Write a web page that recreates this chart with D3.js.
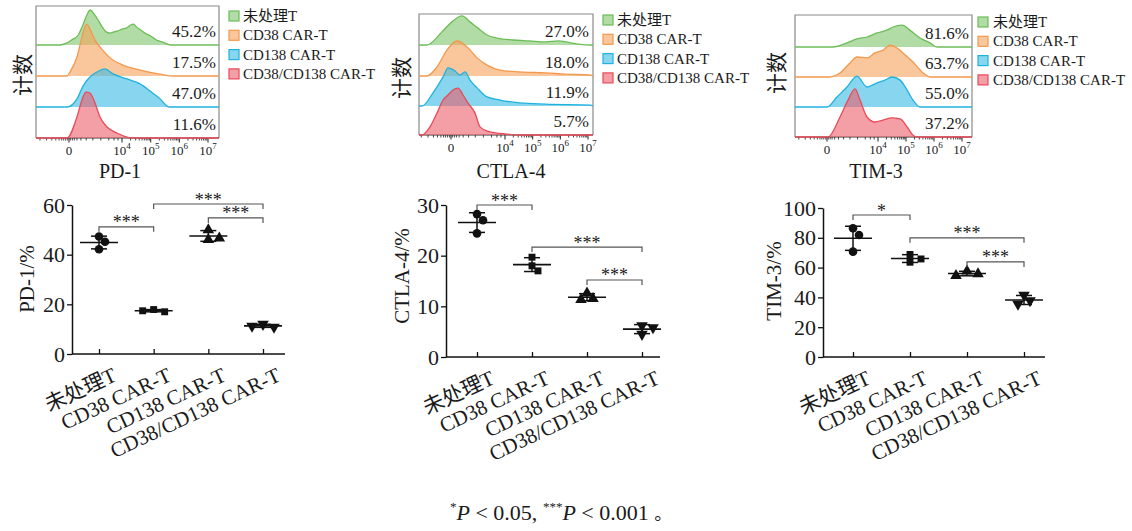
<!DOCTYPE html>
<html><head><meta charset="utf-8">
<script src="https://cdn.jsdelivr.net/npm/d3@7"></script>
<style>
body{margin:0;background:#fff}
svg{display:block}
text{font-family:"Liberation Serif","Times New Roman","Noto Sans CJK SC",serif;fill:#1a1a1a}
</style>
</head><body>
<svg id="c" width="1132" height="531"></svg>
<script>
// ---------- data ----------
const groups = ["未处理T", "CD38 CAR-T", "CD138 CAR-T", "CD38/CD138 CAR-T"];

// histogram x values are in axis units: 0 = "0", 4 = 10^4, 5 = 10^5 ...; y = relative count
const pd1HistUntreated = [[-0.7,0],[-0.2,6],[0.2,16],[0.7,32],[1.05,64],[1.35,96],[1.6,112],[1.9,99],[2.2,80],[2.5,58],[2.8,42],[3.1,38],[3.4,42],[3.7,45],[4.0,51],[4.15,54],[4.3,64],[4.4,67],[4.5,58],[4.65,48],[4.8,38],[5.0,29],[5.2,16],[5.4,10],[5.7,0]];
const pd1HistCD38 = [[-0.15,0],[0.08,13],[0.6,61],[0.98,125],[1.2,157],[1.36,166],[1.58,150],[1.96,115],[2.34,93],[3.1,58],[4.03,35],[4.63,19],[5.33,6],[5.78,0]];
const pd1HistCD138 = [[-0.15,0],[0.6,26],[1.06,67],[1.58,96],[2.11,112],[2.72,122],[3.32,106],[4.17,90],[4.63,74],[4.98,51],[5.33,26],[5.57,3],[5.67,0]];
const pd1HistDual = [[-0.15,0],[0.6,67],[0.98,122],[1.28,147],[1.58,144],[1.96,112],[2.34,67],[2.87,35],[3.62,16],[4.17,3],[4.4,0]];

const ctla4HistUntreated = [[-1.78,0],[-0.67,42],[0.07,74],[0.81,93],[1.41,74],[2.0,54],[2.67,32],[3.41,22],[4.28,16],[4.88,13],[5.47,10],[5.93,13],[6.63,3],[7.09,0]];
const ctla4HistCD38 = [[-1.78,0],[-1.04,29],[-0.3,83],[0.44,112],[1.19,93],[1.93,58],[2.67,35],[3.63,19],[4.53,13],[5.47,10],[6.18,6],[7.09,3]];
const ctla4HistCD138 = [[-2.15,0],[-1.33,42],[-0.59,93],[-0.22,122],[0.3,112],[0.67,99],[1.04,109],[1.41,83],[1.93,58],[2.67,29],[3.63,19],[4.53,10],[5.47,6],[7.09,3]];
const ctla4HistDual = [[-2.15,0],[-1.56,26],[-1.04,70],[-0.59,112],[-0.22,128],[0.15,144],[0.52,150],[0.89,128],[1.26,102],[1.78,70],[2.15,26],[2.89,10],[4.07,3],[4.53,0]];

const tim3HistUntreated = [[0.47,0],[1.57,13],[2.35,26],[3.14,32],[3.92,45],[4.32,54],[4.54,64],[4.86,70],[5.14,54],[5.5,29],[5.86,13],[6.11,0]];
const tim3HistCD38 = [[0.08,0],[1.02,13],[1.8,45],[2.35,64],[3.14,61],[3.76,77],[4.18,86],[4.43,102],[4.68,93],[4.89,77],[5.25,48],[5.61,13],[5.86,0]];
const tim3HistCD138 = [[0,0],[0.78,32],[1.57,64],[2.35,99],[3.14,64],[3.92,77],[4.25,86],[4.5,96],[4.79,86],[5.04,54],[5.25,22],[5.5,0]];
const tim3HistDual = [[0.08,0],[1.02,64],[1.65,118],[2.2,154],[2.59,118],[3.14,64],[3.76,48],[4.18,54],[4.5,61],[4.79,58],[5.04,32],[5.25,6],[5.39,0]];

const pd1Pct = ["45.2%", "17.5%", "47.0%", "11.6%"];
const ctla4Pct = ["27.0%", "18.0%", "11.9%", "5.7%"];
const tim3Pct = ["81.6%", "63.7%", "55.0%", "37.2%"];

const histMajorTicks = [0, 4, 5, 6, 7];
const histTickLabels = ["0", "10|4", "10|5", "10|6", "10|7"];

// replicate values (%)
const pd1Values = [[47.3, 45.2, 42.2], [17.9, 17.0, 17.4], [50.0, 46.0, 46.6], [12.0, 10.8, 11.2]];
const ctla4Values = [[28.2, 27.0, 24.4], [19.7, 18.0, 17.0], [12.6, 11.5, 11.3], [6.2, 5.8, 4.5]];
const tim3Values = [[86.4, 81.9, 70.7], [68.8, 65.8, 63.6], [57.6, 55.8, 54.6], [41.5, 37.8, 35.5]];

// significance: [groupA, groupB, bracket level (%), label]
const pd1Sig = [[0, 1, 51.2, "***"], [1, 3, 60.4, "***"], [2, 3, 54.8, "***"]];
const ctla4Sig = [[0, 1, 30.0, "***"], [1, 3, 21.7, "***"], [2, 3, 15.2, "***"]];
const tim3Sig = [[0, 1, 95.3, "*"], [1, 3, 80.0, "***"], [2, 3, 63.8, "***"]];

const pd1Ticks = [0, 20, 40, 60];
const ctla4Ticks = [0, 10, 20, 30];
const tim3Ticks = [0, 20, 40, 60, 80, 100];

// ---------- drawing ----------
const svg = d3.select("#c");
const strokeCols = ["#6cbd57", "#f3984c", "#1fb2df", "#e94a57"];
const fillCols = ["#7fc56a", "#f6a25c", "#37b9e2", "#ec5d6a"];
const FONT_CJK = '"Liberation Serif","Noto Sans CJK SC",serif';

function histPanel(cfg) {
  const g = svg.append("g");
  const x = d3.scaleLinear().domain(cfg.dom).range(cfg.rng);
  const tL = cfg.dom[0], tR = cfg.dom[cfg.dom.length - 1];
  const xL = x(tL), xR = x(tR);
  g.append("path")
    .attr("d", `M${xL},${cfg.bottom}V${cfg.top}H${xR}V${cfg.bottom}`)
    .attr("fill", "none").attr("stroke", "#8a8a8a").attr("stroke-width", 1.2);
  g.append("line").attr("x1", xL).attr("x2", xR).attr("y1", cfg.bottom).attr("y2", cfg.bottom)
    .attr("stroke", "#333").attr("stroke-width", 1.2);
  const minor = [];
  [-2.2, -1.7, -1.3, -1.0, -0.75, -0.55, -0.4, -0.25, -0.1, 0.1, 0.25, 0.4, 0.6, 0.9, 1.3, 1.8, 2.4, 3.0, 3.4, 3.7]
    .forEach(v => { if (v > tL) minor.push(v); });
  [4, 5, 6].forEach(d => { for (let m = 2; m <= 9; m++) minor.push(d + Math.log10(m)); });
  g.selectAll(".mn").data(minor).join("line")
    .attr("x1", d => x(d)).attr("x2", d => x(d))
    .attr("y1", cfg.bottom).attr("y2", cfg.bottom + 2.5)
    .attr("stroke", "#333").attr("stroke-width", 0.9);
  g.selectAll(".mj").data(histMajorTicks).join("line")
    .attr("x1", d => x(d)).attr("x2", d => x(d))
    .attr("y1", cfg.bottom).attr("y2", cfg.bottom + 4.5)
    .attr("stroke", "#333").attr("stroke-width", 1.1);
  histTickLabels.forEach((lab, i) => {
    const parts = lab.split("|");
    const t = g.append("text").attr("x", x(histMajorTicks[i])).attr("y", cfg.bottom + 17)
      .attr("text-anchor", "middle").attr("font-size", 13);
    t.append("tspan").text(parts[0]);
    if (parts[1]) t.append("tspan").attr("font-size", 9).attr("dy", -6).text(parts[1]);
  });
  cfg.series.forEach((s, i) => {
    const base = cfg.baselines[i];
    const y = d3.scaleLinear().domain([0, 100]).range([base, base - 31.25]);
    const pts = [[tL, 0], ...s, [tR, 0]];
    const area = d3.area().x(d => x(d[0])).y0(base).y1(d => y(d[1])).curve(d3.curveMonotoneX);
    const line = d3.line().x(d => x(d[0])).y(d => y(d[1])).curve(d3.curveMonotoneX);
    g.append("path").attr("d", area(pts)).attr("fill", fillCols[i]).attr("fill-opacity", 0.6);
    g.append("path").attr("d", line(pts)).attr("fill", "none").attr("stroke", strokeCols[i]).attr("stroke-width", 1.3);
  });
  cfg.pct.forEach((p, i) => {
    g.append("text").attr("x", cfg.pctX).attr("y", cfg.baselines[i] - 8.5)
      .attr("text-anchor", "end").attr("font-size", 17).text(p);
  });
  groups.forEach((name, i) => {
    const by = cfg.legendY0 + i * 19.3;
    g.append("rect").attr("x", cfg.legendSqX).attr("y", by - 10).attr("width", 10).attr("height", 10)
      .attr("fill", fillCols[i]).attr("fill-opacity", 0.6).attr("stroke", strokeCols[i]).attr("stroke-width", 1.2);
    g.append("text").attr("x", cfg.legendTxX).attr("y", by).attr("font-size", 15)
      .style("font-family", FONT_CJK).text(name);
  });
  g.append("text").attr("transform", `translate(${cfg.yLabelX},${cfg.yLabelY}) rotate(-90)`)
    .attr("text-anchor", "middle").attr("dominant-baseline", "central").attr("font-size", 21)
    .style("font-family", FONT_CJK).text("计数");
  g.append("text").attr("x", cfg.titleX).attr("y", 178).attr("text-anchor", "middle")
    .attr("font-size", 20).text(cfg.title);
}

histPanel({dom: [-2.5, 0, 4, 7, 7.4], rng: [36, 69, 122, 208, 219], top: 6, bottom: 138,
  baselines: [45, 76, 107, 138], series: [pd1HistUntreated, pd1HistCD38, pd1HistCD138, pd1HistDual],
  pct: pd1Pct, pctX: 216, legendSqX: 229, legendTxX: 243, legendY0: 21, yLabelX: 23, yLabelY: 75,
  title: "PD-1", titleX: 120});
histPanel({dom: [-2.37, 0, 4, 7, 7.18], rng: [419, 451, 505, 588, 593], top: 14, bottom: 135,
  baselines: [45, 76, 106, 135], series: [ctla4HistUntreated, ctla4HistCD38, ctla4HistCD138, ctla4HistDual],
  pct: ctla4Pct, pctX: 589, legendSqX: 603, legendTxX: 617, legendY0: 25, yLabelX: 402, yLabelY: 78,
  title: "CTLA-4", titleX: 511});
histPanel({dom: [-2.5, 0, 4, 7, 7.36], rng: [795, 827, 878, 962, 972], top: 15, bottom: 137,
  baselines: [47, 77, 107, 137], series: [tim3HistUntreated, tim3HistCD38, tim3HistCD138, tim3HistDual],
  pct: tim3Pct, pctX: 969, legendSqX: 978, legendTxX: 993, legendY0: 27, yLabelX: 777, yLabelY: 73,
  title: "TIM-3", titleX: 876});

// ---------- scatter panels ----------
const symbolTypes = [d3.symbolCircle, d3.symbolSquare, d3.symbolTriangle, d3.symbolTriangle];

function scatterPanel(cfg) {
  const g = svg.append("g");
  const max = cfg.ticks[cfg.ticks.length - 1];
  const y = d3.scaleLinear().domain([0, max]).range([cfg.y0, cfg.y1]);
  const x = d3.scalePoint().domain(groups).range([cfg.cat0, cfg.cat3]);
  const ya = g.append("g").attr("transform", `translate(${cfg.axisX},0)`)
    .call(d3.axisLeft(y).tickValues(cfg.ticks).tickSize(5).tickSizeOuter(0).tickPadding(2).tickFormat(d3.format("d")));
  ya.select(".domain").attr("stroke", "#111").attr("stroke-width", 1.5);
  ya.selectAll(".tick line").attr("stroke", "#111").attr("stroke-width", 1.3);
  ya.selectAll(".tick text").attr("font-size", 22).attr("fill", "#1a1a1a")
    .style("font-family", '"Liberation Serif",serif');
  g.append("line").attr("x1", cfg.axisX).attr("x2", cfg.axisEnd).attr("y1", cfg.y0).attr("y2", cfg.y0)
    .attr("stroke", "#111").attr("stroke-width", 1.5);
  const xa = g.append("g").attr("transform", `translate(0,${cfg.y0})`)
    .call(d3.axisBottom(x).tickSize(-5).tickFormat(""));
  xa.select(".domain").remove();
  xa.selectAll(".tick line").attr("stroke", "#111").attr("stroke-width", 1.3);
  groups.forEach(name => {
    g.append("text")
      .attr("transform", `translate(${x(name) + 19},${cfg.y0 + 26}) rotate(-25)`)
      .attr("text-anchor", "end").attr("font-size", 21)
      .style("font-family", FONT_CJK).text(name);
  });
  g.append("text").attr("transform", `translate(${cfg.labelX},${cfg.labelY}) rotate(-90)`)
    .attr("text-anchor", "middle").attr("font-size", 21).text(cfg.label);
  cfg.values.forEach((vals, gi) => {
    const cx = x(groups[gi]);
    const m = d3.mean(vals), sd = d3.deviation(vals);
    g.append("line").attr("x1", cx).attr("x2", cx).attr("y1", y(m + sd)).attr("y2", y(m - sd))
      .attr("stroke", "#111").attr("stroke-width", 1.5);
    [m + sd, m - sd].forEach(v => g.append("line").attr("x1", cx - 8).attr("x2", cx + 8)
      .attr("y1", y(v)).attr("y2", y(v)).attr("stroke", "#111").attr("stroke-width", 1.5));
    g.append("line").attr("x1", cx - 19).attr("x2", cx + 19).attr("y1", y(m)).attr("y2", y(m))
      .attr("stroke", "#111").attr("stroke-width", 1.6);
    const placed = [];
    vals.forEach(v => {
      const py = y(v);
      const offs = [0, 6, -6, 11, -11, 15, -15];
      let ox = 0;
      for (const o of offs) {
        if (placed.every(p => Math.hypot(p[0] - o, p[1] - py) > 7.5)) { ox = o; break; }
      }
      placed.push([ox, py]);
      const sym = d3.symbol().type(symbolTypes[gi]).size(gi === 1 ? 48 : 58);
      g.append("path").attr("d", sym())
        .attr("transform", `translate(${cx + ox},${py})${gi === 3 ? " rotate(180)" : ""}`)
        .attr("fill", "#111");
    });
  });
  cfg.sig.forEach(([a, b, lvl, lab]) => {
    const xa1 = x(groups[a]), xb1 = x(groups[b]), yy = y(lvl);
    g.append("path").attr("d", `M${xa1},${yy + 5}V${yy}H${xb1}V${yy + 5}`)
      .attr("fill", "none").attr("stroke", "#555").attr("stroke-width", 1.2);
    g.append("text").attr("x", (xa1 + xb1) / 2).attr("y", yy + 1.5).attr("text-anchor", "middle")
      .attr("font-size", 18).attr("fill", "#333").text(lab);
  });
}

scatterPanel({axisX: 72, y0: 354, y1: 205, ticks: pd1Ticks, cat0: 99, cat3: 263, axisEnd: 285,
  values: pd1Values, sig: pd1Sig, label: "PD-1/%", labelX: 34, labelY: 279});
scatterPanel({axisX: 446, y0: 357, y1: 205, ticks: ctla4Ticks, cat0: 477, cat3: 642, axisEnd: 660,
  values: ctla4Values, sig: ctla4Sig, label: "CTLA-4/%", labelX: 409, labelY: 276});
scatterPanel({axisX: 823, y0: 357, y1: 208, ticks: tim3Ticks, cat0: 853, cat3: 1024, axisEnd: 1045,
  values: tim3Values, sig: tim3Sig, label: "TIM-3/%", labelX: 781, labelY: 281});

// footnote
const fn = svg.append("text").attr("x", 450).attr("y", 520).attr("font-size", 22);
fn.append("tspan").attr("font-size", 13).attr("dy", -9).text("*");
fn.append("tspan").attr("font-style", "italic").attr("dy", 9).text("P");
fn.append("tspan").text(" < 0.05, ");
fn.append("tspan").attr("font-size", 13).attr("dy", -9).text("***");
fn.append("tspan").attr("font-style", "italic").attr("dy", 9).text("P");
fn.append("tspan").text(" < 0.001 ");
fn.append("tspan").style("font-family", FONT_CJK).attr("font-size", 18).text("。");
</script>
</body></html>
